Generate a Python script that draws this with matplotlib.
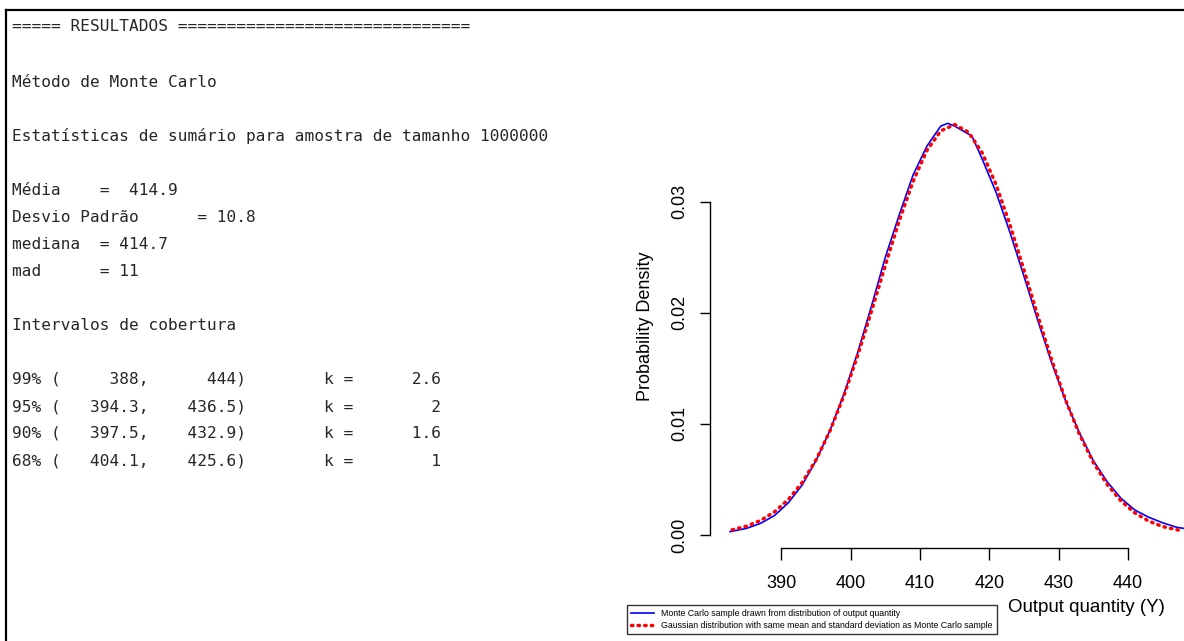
import matplotlib
matplotlib.use("Agg")
import matplotlib.pyplot as plt
from matplotlib import font_manager
from matplotlib.lines import Line2D

W, H = 1184, 641

# text panel (R console output)
header = "===== RESULTADOS =============================="
metodo = "Método de Monte Carlo"
resumo = "Estatísticas de sumário para amostra de tamanho 1000000"
stats_lines = ["Média    =  414.9",
               "Desvio Padrão      = 10.8",
               "mediana  = 414.7",
               "mad      = 11"]
intervalos = "Intervalos de cobertura"
cov_prob = ["99%", "95%", "90%", "68%"]
cov_low = ["388", "394.3", "397.5", "404.1"]
cov_high = ["444", "436.5", "432.9", "425.6"]
cov_k = ["2.6", "2", "1.6", "1"]

# density curves
x_mc = [382.6, 385, 387, 389, 391, 393, 395, 397, 399, 401, 403, 405, 407, 409,
        411, 413, 414, 415, 417.5, 419, 421, 423, 425, 427, 429, 431, 433, 435,
        437, 439, 441, 443, 445, 447, 449.5]
dens_mc = [0.00030, 0.00060, 0.00105, 0.00175, 0.00290, 0.00450, 0.00670, 0.00940,
           0.01265, 0.01640, 0.02060, 0.02500, 0.02880, 0.03240, 0.03500, 0.03680,
           0.03705, 0.03680, 0.03590, 0.03380, 0.03080, 0.02720, 0.02330, 0.01930,
           0.01550, 0.01210, 0.00920, 0.00670, 0.00480, 0.00330, 0.00225, 0.00160,
           0.00110, 0.00070, 0.00045]
x_gauss = [382.9, 385, 387, 389, 391, 393, 395, 397, 399, 401, 403, 405, 407, 409,
           411, 413, 415, 417, 419, 421, 423, 425, 427, 429, 431, 433, 435, 437,
           439, 441, 443, 445, 447.6]
dens_gauss = [0.00047, 0.00080, 0.00131, 0.00208, 0.00319, 0.00473, 0.00676, 0.00935,
              0.01250, 0.01614, 0.02013, 0.02427, 0.02827, 0.03182, 0.03461, 0.03637,
              0.03694, 0.03625, 0.03437, 0.03150, 0.02788, 0.02386, 0.01972, 0.01576,
              0.01216, 0.00907, 0.00654, 0.00455, 0.00306, 0.00199, 0.00125, 0.00076,
              0.00040]
x_ticks = [390, 400, 410, 420, 430, 440]
y_ticks = [0.00, 0.01, 0.02, 0.03]

legend_labels = ["Monte Carlo sample drawn from distribution of output quantity",
                 "Gaussian distribution with same mean and standard deviation as Monte Carlo sample"]

names = {f.name for f in font_manager.fontManager.ttflist}
sans = "Liberation Sans Narrow" if "Liberation Sans Narrow" in names else "Liberation Sans"
mono = "DejaVu Sans Mono"

fig = plt.figure(figsize=(W / 100, H / 100), dpi=100)


def fx(px):
    return px / W


def fy(py):
    return 1 - py / H


# frame of the cropped screenshot
fig.add_artist(Line2D([fx(6), fx(6)], [fy(10), fy(H + 5)], color="black", lw=1.6))
fig.add_artist(Line2D([fx(6), fx(W + 5)], [fy(10), fy(10)], color="black", lw=1.6))

# console text
rows = [(0, header), (2, metodo), (4, resumo)]
for i, s in enumerate(stats_lines):
    rows.append((6 + i, s))
rows.append((11, intervalos))
for i in range(4):
    line = f"{cov_prob[i]} ({cov_low[i]:>8},{cov_high[i]:>9})        k = {cov_k[i]:>8}"
    rows.append((13 + i, line))

for r, s in rows:
    base = 31 if r == 0 else 33 + 27 * r
    fig.text(fx(12), fy(base), s, family=mono, fontsize=11.6, color="#262626",
             va="baseline", ha="left")

# plot region (extends past the right edge like the cropped original)
ax_left, ax_right = 710, 1209
ax_top, ax_bot = 105, 548
ax = fig.add_axes([fx(ax_left), fy(ax_bot), (ax_right - ax_left) / W, (ax_bot - ax_top) / H])
ax.set_xlim(379.7, 451.7)
ax.set_ylim(-0.00117, 0.0387)

ax.plot(x_mc, dens_mc, color="#0000ff", lw=1.2, label=legend_labels[0])
ax.plot(x_gauss, dens_gauss, color="#ff0000", lw=2.5, linestyle=(0, (0.4, 1.5)),
        dash_capstyle="round", label=legend_labels[1])

for side in ["top", "right"]:
    ax.spines[side].set_visible(False)
ax.spines["left"].set_bounds(0.0, 0.03)
ax.spines["bottom"].set_bounds(390, 440)
ax.spines["left"].set_linewidth(1.0)
ax.spines["bottom"].set_linewidth(1.0)

ax.set_xticks(x_ticks)
ax.set_yticks(y_ticks)
ax.set_xticklabels([str(t) for t in x_ticks], family=sans, fontsize=13)
ax.set_yticklabels([f"{t:.2f}" for t in y_ticks], family=sans, fontsize=13,
                   rotation=90, va="center")
ax.tick_params(axis="x", length=8.5, width=1.0, pad=11)
ax.tick_params(axis="y", length=7.5, width=1.0, pad=8)
ax.set_facecolor("none")

fig.text(fx(645), fy(326), "Probability Density", family=sans, fontsize=13,
         rotation=90, ha="center", va="center")
fig.text(fx(1086), fy(607), "Output quantity (Y)", family=sans, fontsize=13.5,
         ha="center", va="center")

handles, labels = ax.get_legend_handles_labels()
leg = fig.legend(handles, labels, loc="upper left",
                 bbox_to_anchor=(fx(627), fy(605)), frameon=True, fancybox=False,
                 prop={"family": sans, "size": 6.3}, handlelength=2.6,
                 handletextpad=0.8, borderpad=0.5, labelspacing=0.3,
                 borderaxespad=0)
leg.get_frame().set_edgecolor("black")
leg.get_frame().set_linewidth(1.0)

fig.savefig("out.png", dpi=100)
